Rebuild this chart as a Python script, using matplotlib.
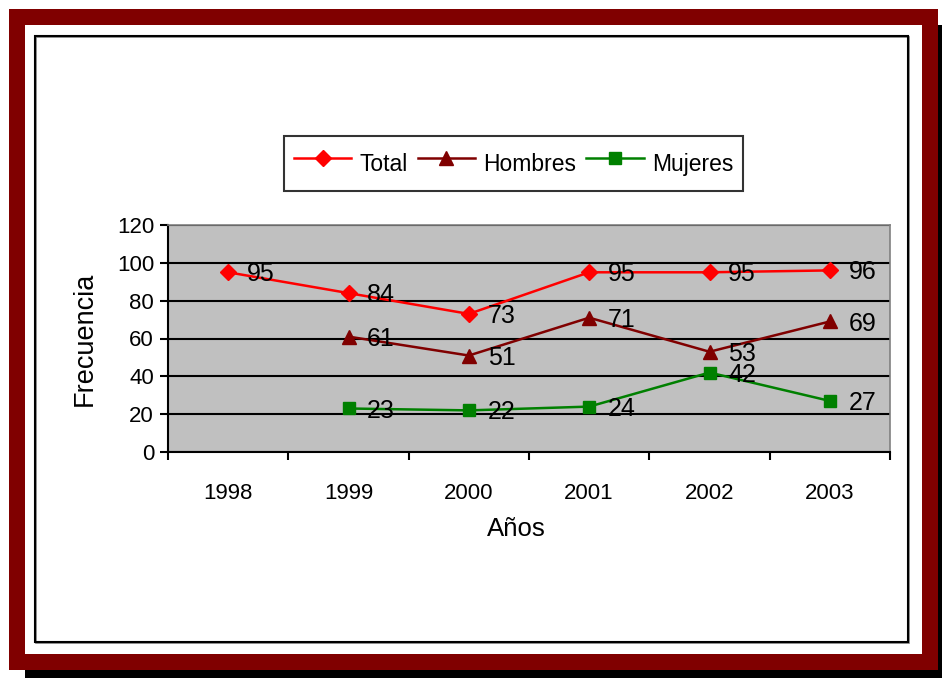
import matplotlib.pyplot as plt
import numpy as np
from matplotlib.patches import Rectangle

plt.rcParams['font.family'] = ['Liberation Sans', 'DejaVu Sans']

years = ['1998', '1999', '2000', '2001', '2002', '2003']
total = [95, 84, 73, 95, 95, 96]
hombres = [np.nan, 61, 51, 71, 53, 69]
mujeres = [np.nan, 23, 22, 24, 42, 27]

W, H = 942, 678
fig = plt.figure(figsize=(W / 100, H / 100), dpi=100)
fig.patch.set_facecolor('white')


def rect(x0, y0, x1, y1, **kw):
    # caja en pixeles (origen arriba a la izquierda) -> parche de la figura
    r = Rectangle((x0 / W, 1 - y1 / H), (x1 - x0) / W, (y1 - y0) / H,
                  transform=fig.transFigure, zorder=-5, **kw)
    fig.patches.append(r)
    return r


# marco rojo con sombra
rect(25, 25, 942, 678, facecolor='black', edgecolor='none')
rect(9, 9, 938, 670, facecolor='#800000', edgecolor='none')
rect(25, 25, 922, 654, facecolor='white', edgecolor='none')
rect(36, 37, 909, 643, facecolor='none', edgecolor='#808080', linewidth=1.2)
rect(35, 36, 908, 642, facecolor='none', edgecolor='black', linewidth=1.5)

ax = fig.add_axes([168 / W, 1 - 452 / H, (890 - 168) / W, (452 - 225) / H])
ax.set_facecolor('#C0C0C0')
x = np.arange(len(years))

ax.plot(x, total, color='red', marker='D', markersize=8.5, linewidth=1.8,
        label='Total', zorder=3)
ax.plot(x, hombres, color='#800000', marker='^', markersize=10.5, linewidth=1.8,
        label='Hombres', zorder=3)
ax.plot(x, mujeres, color='#008000', marker='s', markersize=9, linewidth=1.8,
        label='Mujeres', zorder=3)

for serie in (total, hombres, mujeres):
    for xi, v in zip(x, serie):
        if np.isnan(v):
            continue
        ax.annotate(f'{v:.0f}', (xi, v), xytext=(13.5, -6.5),
                    textcoords='offset points', ha='left', va='baseline',
                    fontsize=18, color='black', zorder=4)

ax.set_xlim(-0.5, 5.5)
ax.set_ylim(0, 120)
ax.set_yticks(range(0, 121, 20))
ax.set_xticks(np.arange(-0.5, 6, 1))
ax.set_xticklabels([])
ax.set_xticks(x, minor=True)
ax.set_xticklabels(years, minor=True)
ax.tick_params(axis='x', which='major', direction='out', length=6, width=1.5, color='black')
ax.tick_params(axis='x', which='minor', length=0, pad=22, labelsize=16)
ax.tick_params(axis='y', direction='out', length=6, width=1.5, labelsize=16, pad=4)

ax.grid(axis='y', color='black', linewidth=1.5, zorder=1)
ax.set_axisbelow(True)
for s in ('top', 'right'):
    ax.spines[s].set_color('#808080')
    ax.spines[s].set_linewidth(1.2)
for s in ('left', 'bottom'):
    ax.spines[s].set_color('black')
    ax.spines[s].set_linewidth(1.5)

ax.set_ylabel('Frecuencia', fontsize=19.5)
ax.yaxis.set_label_coords((98 - 168) / 722, 0.5)
ax.set_xlabel('Años', fontsize=18.5)
ax.xaxis.set_label_coords((516.5 - 168) / 722, -0.285)

leg = fig.legend(loc='center', bbox_to_anchor=(513.5 / W, 1 - 163.5 / H),
                 ncol=3, fontsize=16.5, frameon=True, fancybox=False,
                 edgecolor='black', handlelength=2.5, handleheight=2.0,
                 handletextpad=0.35, columnspacing=0.45, borderpad=0.42)
leg.get_frame().set_linewidth(1.5)

fig.savefig('out.png', dpi=100, facecolor=fig.get_facecolor())
